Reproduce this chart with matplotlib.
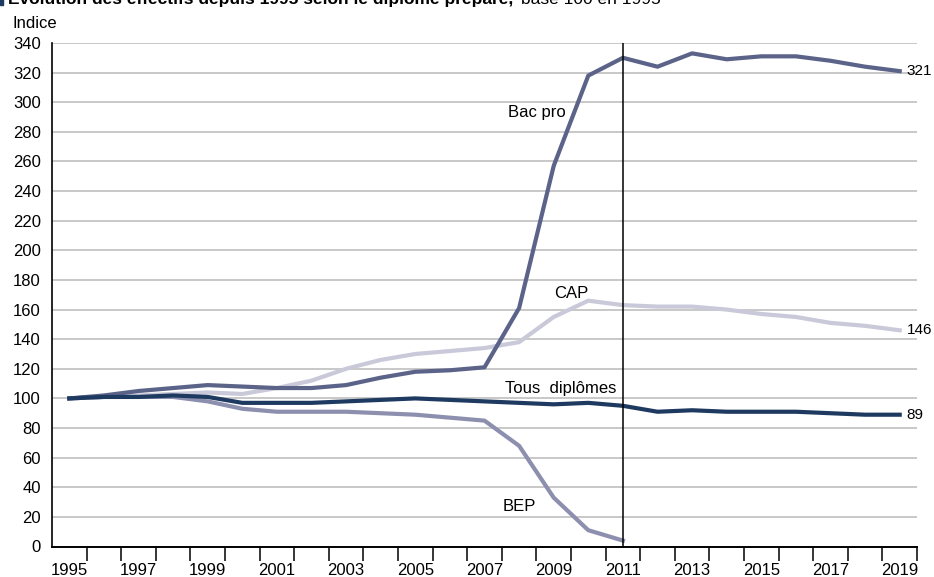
import matplotlib
matplotlib.use("Agg")
import matplotlib.pyplot as plt
from matplotlib import font_manager as fm
import numpy as np

## -- data (index, base 100 in 1995)
years = list(range(1995, 2020))
bac_pro = [100, 102, 105, 107, 109, 108, 107, 107, 109, 114, 118, 119, 121,
           161, 257, 318, 330, 324, 333, 329, 331, 331, 328, 324, 321]
cap = [100, 101, 102, 103, 104, 103, 107, 112, 120, 126, 130, 132, 134,
       138, 155, 166, 163, 162, 162, 160, 157, 155, 151, 149, 146]
tous = [100, 101, 101, 102, 101, 97, 97, 97, 98, 99, 100, 99, 98,
        97, 96, 97, 95, 91, 92, 91, 91, 91, 90, 89, 89]
bep_years = list(range(1995, 2012))
bep = [100, 101, 101, 101, 98, 93, 91, 91, 91, 90, 89, 87, 85,
       68, 33, 11, 4]
yticks = list(range(0, 341, 20))
xlabels = list(range(1995, 2020, 2))

c_bac = '#5b6389'
c_cap = '#c9c9d9'
c_tous = '#1e3a60'
c_bep = '#8d8fae'

## -- the reference uses a condensed grotesque; take a narrow face if one is installed
def find_face(keys):
  files = fm.findSystemFonts(fontext='ttf')
  for key in keys:
    for f in files:
      if f.split('/')[-1].lower() == key.lower():
        fm.fontManager.addfont(f)
        return fm.FontProperties(fname=f).get_name()
  return None

narrow = find_face(['LiberationSansNarrow-Regular.ttf'])
find_face(['LiberationSansNarrow-Bold.ttf'])
if narrow:
  plt.rcParams['font.family'] = [narrow, 'DejaVu Sans']
  fs, fs_end, fs_t = 13, 13, 14
else:
  plt.rcParams['font.family'] = ['Liberation Sans', 'DejaVu Sans']
  fs, fs_end, fs_t = 12, 11, 12.5

fig = plt.figure(figsize=(9.34, 5.77), dpi=100)
ax = fig.add_axes([52/934, 1-546.5/577, (917-52)/934, (546.5-43)/577])

ax.set_xlim(1994.5, 2019.5)
ax.set_ylim(0, 340)

## -- grid
for v in yticks[1:]:
  ax.axhline(v, color='#c4c4c4', lw=1.3, zorder=1)

## -- series
lw = 3.0
ax.plot(bep_years, bep, color=c_bep, lw=lw, zorder=3)
ax.plot(years, cap, color=c_cap, lw=lw, zorder=3)
ax.plot(years, bac_pro, color=c_bac, lw=lw, zorder=4)
ax.plot(years, tous, color=c_tous, lw=lw, zorder=5)

ax.axvline(2011, color='black', lw=1.1, zorder=6)

## -- spines / ticks
for s in ['top', 'right']:
  ax.spines[s].set_visible(False)
ax.spines['left'].set_linewidth(1.2)
ax.spines['bottom'].set_linewidth(1.4)
ax.spines['bottom'].set_zorder(7)

ax.set_yticks(yticks)
ax.tick_params(axis='y', length=0, pad=8, labelsize=fs)
ax.set_xticks(xlabels)
ax.set_xticks(np.arange(1995.5, 2020, 1.0), minor=True)
ax.tick_params(axis='x', which='major', length=0, pad=12, labelsize=fs)
ax.tick_params(axis='x', which='minor', length=10, width=1.1, direction='out')

## -- series labels
ax.text(2008.5, 293, 'Bac pro', ha='center', va='center', fontsize=fs)
ax.text(2009.5, 171, 'CAP', ha='center', va='center', fontsize=fs)
ax.text(2010.8, 107, 'Tous  diplômes', ha='right', va='center', fontsize=fs)
ax.text(2008.0, 27, 'BEP', ha='center', va='center', fontsize=fs)
for vals in (bac_pro, cap, tous):
  ax.text(2019.2, vals[-1], str(vals[-1]), ha='left', va='center', fontsize=fs_end,
    clip_on=False, zorder=8)

## -- header (title is cut by the top edge, as in the reference)
fig.text(12/934, 1-23/577, 'Indice', ha='left', va='center', fontsize=fs)
t1 = fig.text(8/934, 1-4/577, 'Évolution des effectifs depuis 1995 selon le diplôme préparé,',
  ha='left', va='baseline', fontsize=fs_t, fontweight='bold')
fig.canvas.draw()
bb = t1.get_window_extent()
fig.text((bb.x1 + 8)/934, 1-4/577, 'base 100 en 1995', ha='left', va='baseline', fontsize=fs_t)
fig.patches.append(plt.Rectangle((0, 1-5/577), 3/934, 8/577, transform=fig.transFigure,
  color=c_tous, figure=fig))

fig.savefig('out.png', dpi=100, facecolor='white')
